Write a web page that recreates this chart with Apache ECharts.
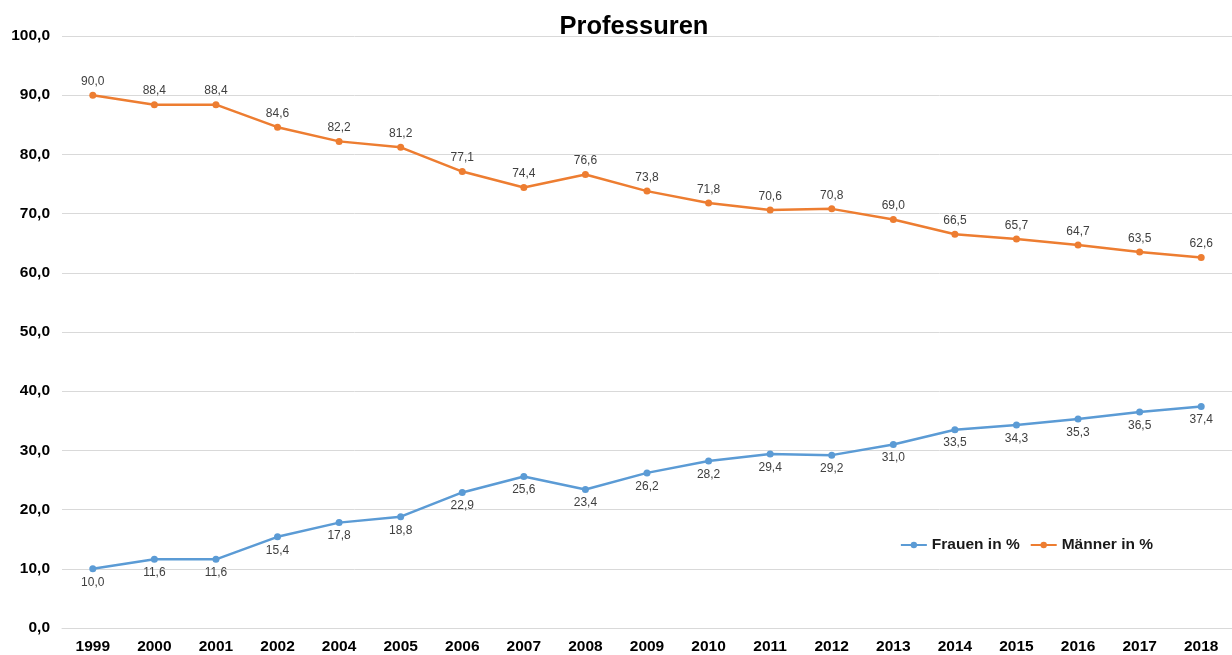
<!DOCTYPE html>
<html><head><meta charset="utf-8">
<script src="https://cdn.jsdelivr.net/npm/echarts@6/dist/echarts.min.js"></script>
<style>html,body{margin:0;padding:0;background:#fff}#c{width:1232px;height:655px}</style>
</head><body><div id="c"></div>
<script>
const categories = ['1999','2000','2001','2002','2004','2005','2006','2007','2008','2009','2010','2011','2012','2013','2014','2015','2016','2017','2018'];
const frauen = [10.0,11.6,11.6,15.4,17.8,18.8,22.9,25.6,23.4,26.2,28.2,29.4,29.2,31.0,33.5,34.3,35.3,36.5,37.4];
const maenner = [90.0,88.4,88.4,84.6,82.2,81.2,77.1,74.4,76.6,73.8,71.8,70.6,70.8,69.0,66.5,65.7,64.7,63.5,62.6];
const fmt = v => v.toFixed(1).replace('.', ',');
const chart = echarts.init(document.getElementById('c'));
const font = 'Liberation Sans, Arial, sans-serif';
chart.setOption({
  animation: false,
  textStyle: {fontFamily: font},
  title: {text: 'Professuren', left: 629, top: 9, textAlign: 'center',
    textStyle: {fontFamily: font, fontSize: 25.5, fontWeight: 'bold', color: '#000'}},
  legend: {right: 74, top: 532, itemWidth: 26, itemHeight: 8, itemGap: 10,
    textStyle: {fontFamily: font, fontSize: 15.5, fontWeight: 'bold', color: '#1a1a1a'},
    data: ['Frauen in %', 'Männer in %']},
  grid: {left: 62, top: 36, width: 1173, bottom: 27, containLabel: false},
  xAxis: {type: 'category', data: categories, boundaryGap: true,
    axisLine: {show: true, lineStyle: {color: '#d9d9d9'}}, axisTick: {show: false},
    axisLabel: {margin: 11, fontFamily: font, fontSize: 15.5, fontWeight: 'bold', color: '#000'}},
  yAxis: {type: 'value', min: 0, max: 100, interval: 10,
    axisLine: {show: false}, axisTick: {show: false},
    splitLine: {lineStyle: {color: '#d9d9d9'}},
    axisLabel: {margin: 12, formatter: fmt, fontFamily: font, fontSize: 15.5, fontWeight: 'bold', color: '#000'}},
  series: [
    {name: 'Frauen in %', type: 'line', data: frauen, color: '#5B9BD5',
     symbol: 'circle', symbolSize: 7, lineStyle: {width: 2.5},
     label: {show: true, position: 'bottom', distance: 4, formatter: p => fmt(p.value), fontSize: 12, color: '#404040'}},
    {name: 'Männer in %', type: 'line', data: maenner, color: '#ED7D31',
     symbol: 'circle', symbolSize: 7, lineStyle: {width: 2.5},
     label: {show: true, position: 'top', distance: 4, formatter: p => fmt(p.value), fontSize: 12, color: '#404040'}}
  ]
});
</script></body></html>
